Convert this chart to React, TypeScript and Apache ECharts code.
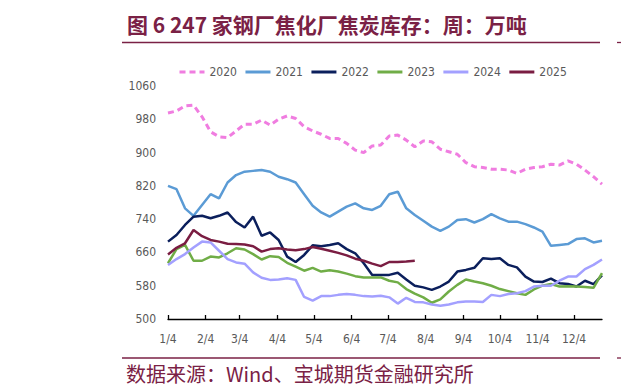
import React, { useEffect, useRef } from "react";
import * as echarts from "echarts";

// Weekly observations, first week on 1/4, one value per week (万吨)
const seriesNames = ["2020", "2021", "2022", "2023", "2024", "2025"];

const v2020 = [995, 1000, 1012, 1014, 986, 950, 938, 936, 952, 968, 968, 978, 966, 980, 988, 982, 962, 952, 944, 934, 934, 922, 906, 900, 916, 918, 940, 942, 930, 914, 928, 926, 908, 902, 896, 876, 866, 864, 860, 860, 858, 850, 860, 864, 866, 872, 870, 880, 872, 858, 842, 824];
const v2021 = [820, 812, 766, 748, 774, 800, 790, 828, 846, 854, 856, 858, 854, 842, 836, 828, 800, 772, 756, 746, 758, 770, 778, 766, 762, 772, 800, 806, 766, 750, 736, 722, 712, 722, 738, 740, 732, 740, 752, 742, 734, 734, 728, 720, 710, 676, 678, 680, 692, 694, 684, 688];
const v2022 = [686, 702, 726, 746, 748, 742, 748, 756, 733, 720, 746, 700, 708, 690, 650, 637, 654, 677, 675, 678, 682, 668, 658, 634, 606, 606, 606, 611, 595, 580, 576, 570, 578, 590, 614, 618, 623, 646, 644, 646, 630, 624, 602, 590, 589, 597, 586, 584, 578, 592, 584, 605];
const v2023 = [634, 668, 678, 640, 640, 650, 648, 658, 670, 667, 656, 643, 651, 649, 635, 626, 616, 623, 614, 617, 614, 609, 603, 600, 600, 600, 592, 588, 572, 561, 552, 539, 547, 566, 582, 595, 590, 586, 580, 572, 567, 562, 558, 571, 580, 584, 578, 579, 578, 577, 575, 610];
const v2024 = [630, 644, 656, 672, 686, 684, 664, 644, 636, 633, 612, 599, 594, 595, 598, 594, 553, 544, 555, 555, 558, 560, 558, 555, 554, 556, 552, 537, 551, 541, 540, 535, 532, 535, 540, 542, 542, 541, 558, 555, 560, 562, 567, 578, 580, 580, 592, 602, 602, 620, 630, 643];
const v2025 = [655, 671, 682, 714, 699, 690, 686, 681, 680, 679, 675, 662, 668, 670, 667, 665, 668, 673, 669, 664, 659, 653, 645, 640, 633, 627, 637, 637, 638, 640];

const yTicks = { min: 500, max: 1060, step: 80 };
const colors = ["#F07DE0", "#5B9BD5", "#0B1F5C", "#70AD47", "#A3A0FF", "#7A1D42"];

// Daily categories from 1/4 through 12/27 (one non-leap year); ticks fall on day 4 of each month
function buildDays(): string[] {
  const out: string[] = [];
  const d = new Date(2025, 0, 4);
  for (let i = 0; i < 358; i++) {
    out.push(`${d.getMonth() + 1}/${d.getDate()}`);
    d.setDate(d.getDate() + 1);
  }
  return out;
}
const days = buildDays();
const allValues = [v2020, v2021, v2022, v2023, v2024, v2025];

const numFont = "'Liberation Sans Narrow', 'Arial Narrow', 'DejaVu Sans Condensed', sans-serif";
const cjkFont = "'Noto Sans CJK SC', sans-serif";
const maroon = "#7A2145";

export default function App() {
  const ref = useRef<HTMLDivElement>(null);
  useEffect(() => {
    if (!ref.current) return;
    const chart = echarts.init(ref.current, undefined, { renderer: "svg" });
    const isTick = (_: number, val: string) => val.split("/")[1] === "4";
    chart.setOption({
      animation: false,
      backgroundColor: "#ffffff",
      grid: { left: 168, right: 19, top: 86, bottom: 73, containLabel: false },
      legend: {
        top: 66,
        left: 178,
        padding: 0,
        itemWidth: 25,
        itemHeight: 12,
        itemGap: 7,
        itemStyle: { opacity: 0 },
        lineStyle: { width: 3 },
        textStyle: { fontSize: 12, color: "#595959", fontFamily: numFont },
        data: seriesNames,
      },
      xAxis: {
        type: "category",
        data: days,
        boundaryGap: false,
        axisLine: { show: true, lineStyle: { color: "#000000", width: 1.3 } },
        axisTick: { show: true, inside: true, length: 4, interval: isTick, lineStyle: { color: "#000000", width: 1.3 } },
        axisLabel: { interval: isTick, fontSize: 12, color: "#595959", fontFamily: numFont, margin: 14 },
        splitLine: { show: false },
      },
      yAxis: {
        type: "value",
        min: yTicks.min,
        max: yTicks.max,
        interval: yTicks.step,
        axisLine: { show: false },
        axisTick: { show: false },
        splitLine: { show: false },
        axisLabel: { fontSize: 12, color: "#595959", fontFamily: numFont, margin: 12, formatter: (v: number) => String(v) },
      },
      series: seriesNames.map((name, k) => ({
        name,
        type: "line",
        symbol: "none",
        showSymbol: false,
        color: colors[k],
        lineStyle: {
          color: colors[k],
          width: k === 0 ? 3 : 2.5,
          type: k === 0 ? [6, 4] : "solid",
        },
        data: allValues[k].map((v, i) => [i * 7, v]),
      })),
      graphic: [
        {
          type: "text",
          left: 127,
          top: 13,
          style: { text: "图 6 247 家钢厂焦化厂焦炭库存：周：万吨", fontSize: 21, fontWeight: "bold", fill: maroon, fontFamily: cjkFont },
        },
        { type: "line", shape: { x1: 122, y1: 42.5, x2: 600, y2: 42.5 }, style: { stroke: maroon, lineWidth: 1.3 } },
        { type: "line", shape: { x1: 617, y1: 42.5, x2: 621, y2: 42.5 }, style: { stroke: maroon, lineWidth: 1.3 } },
        { type: "line", shape: { x1: 122, y1: 358, x2: 600, y2: 358 }, style: { stroke: maroon, lineWidth: 1.3 } },
        { type: "line", shape: { x1: 617, y1: 358, x2: 621, y2: 358 }, style: { stroke: maroon, lineWidth: 1.3 } },
        {
          type: "text",
          left: 126,
          top: 363,
          style: { text: "数据来源：Wind、宝城期货金融研究所", fontSize: 20, fill: maroon, fontFamily: cjkFont },
        },
      ],
    });
    return () => chart.dispose();
  }, []);
  return <div ref={ref} style={{ width: 621, height: 392, position: "absolute", left: 0, top: 0 }} />;
}
